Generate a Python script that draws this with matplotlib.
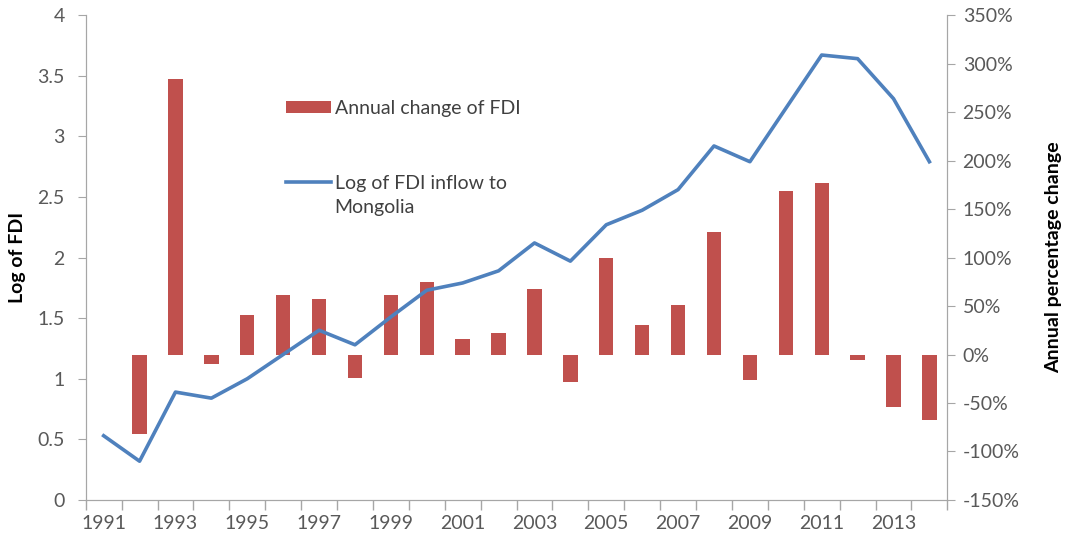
import numpy as np
import matplotlib
matplotlib.use("Agg")
import matplotlib.pyplot as plt
from matplotlib.ticker import FuncFormatter
from matplotlib.legend_handler import HandlerLine2D

plt.rcParams['font.family'] = ['Lato', 'DejaVu Sans']

years = list(range(1991, 2015))
log_fdi = [0.53, 0.32, 0.89, 0.84, 1.00, 1.20, 1.40, 1.28, 1.51, 1.73, 1.79, 1.89,
           2.12, 1.97, 2.27, 2.39, 2.56, 2.92, 2.79, 3.23, 3.67, 3.64, 3.31, 2.79]
# annual change in %, no value for the first year
annual_change = [np.nan, -82, 284, -10, 41, 61, 57, -24, 61, 75, 16, 22,
                 68, -28, 100, 30, 51, 126, -26, 169, 177, -6, -54, -68]

RED = "#C0504D"
BLUE = "#4F81BD"
SPINE = "#A6A6A6"
TXT = "#595959"


class TopLineHandler(HandlerLine2D):
    # put the legend line next to the first line of a two line label
    def __init__(self, shift, **kw):
        super().__init__(**kw)
        self.shift = shift

    def create_artists(self, legend, orig_handle, xdescent, ydescent, width, height, fontsize, trans):
        arts = super().create_artists(legend, orig_handle, xdescent, ydescent, width, height, fontsize, trans)
        for a in arts:
            a.set_ydata(np.asarray(a.get_ydata()) + self.shift)
        return arts


fig = plt.figure(figsize=(10.66, 5.42), dpi=100)
ax = fig.add_axes([0.0804, 0.0775, 0.8083, 0.8948])
ax2 = ax.twinx()

x = np.arange(len(years))

bars = ax2.bar(x, annual_change, width=0.4, color=RED, label="Annual change of FDI")
line, = ax.plot(x, log_fdi, color=BLUE, linewidth=2.6, label="Log of FDI inflow to\nMongolia")

# line sits above the bars
ax.set_zorder(ax2.get_zorder() + 1)
ax.patch.set_visible(False)

ax.set_xlim(-0.5, len(years) - 0.5)
ax.set_ylim(0, 4)
ax2.set_ylim(-150, 350)
ax.set_yticks(np.arange(0, 4.01, 0.5))
ax.set_yticklabels(["0", "0.5", "1", "1.5", "2", "2.5", "3", "3.5", "4"])
ax2.set_yticks(np.arange(-150, 351, 50))
ax2.yaxis.set_major_formatter(FuncFormatter(lambda v, p: f"{int(v)}%"))

# labels on every other year, ticks at category edges
ax.set_xticks(x[::2])
ax.set_xticklabels([str(y) for y in years[::2]])
ax.set_xticks(np.arange(-0.5, len(years), 1), minor=True)
ax.tick_params(axis='x', which='major', length=0, pad=11)
ax.tick_params(axis='x', which='minor', length=7, color=SPINE, width=1)

for a in (ax, ax2):
    for s in a.spines.values():
        s.set_color(SPINE)
    a.spines['top'].set_visible(False)
    a.tick_params(labelsize=14, labelcolor=TXT)
ax.tick_params(axis='y', length=6, color=SPINE, pad=9)
ax2.tick_params(axis='y', length=6, color=SPINE, pad=5)

ax.set_ylabel("Log of FDI", fontsize=14, fontweight='bold', color="#000000", labelpad=8)
ax2.set_ylabel("Annual percentage change", fontsize=14, fontweight='bold', color="#000000", labelpad=18)

leg = ax.legend([bars, line], [bars.get_label(), line.get_label()],
                loc='upper left', bbox_to_anchor=(286 / 1066, 1 - 100 / 542),
                bbox_transform=fig.transFigure, frameon=False, fontsize=14,
                handlelength=2.3, handleheight=0.6, handletextpad=0.2,
                labelspacing=3.0, borderpad=0, borderaxespad=0,
                handler_map={line: TopLineHandler(shift=10)})
for t in leg.get_texts():
    t.set_color("#404040")
    t.set_linespacing(1.45)

fig.savefig("out.png", dpi=100)
